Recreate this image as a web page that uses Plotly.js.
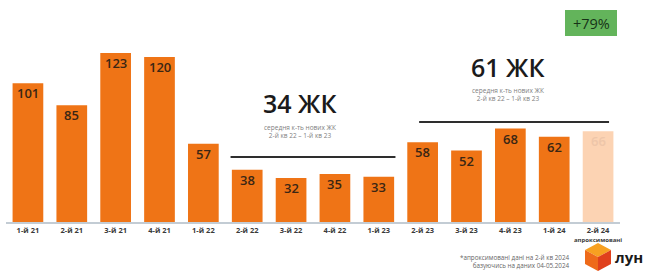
<!DOCTYPE html>
<html><head><meta charset="utf-8">
<script src="https://cdn.plot.ly/plotly-3.0.1.min.js"></script>
<style>html,body{margin:0;padding:0;background:#fff}#c{width:646px;height:271px}</style>
</head><body><div id="c"></div>
<script>
const quarters = ["1-й 21","2-й 21","3-й 21","4-й 21","1-й 22","2-й 22","3-й 22","4-й 22","1-й 23","2-й 23","3-й 23","4-й 23","1-й 24","2-й 24"];
const tickLabels = ["1-й 21","2-й 21","3-й 21","4-й 21","1-й 22","2-й 22","3-й 22","4-й 22","1-й 23","2-й 23","3-й 23","4-й 23","1-й 24","2-й 24<br><span style='font-size:6px'>апроксимовані</span>"];
const newProjects = [101,85,123,120,57,38,32,35,33,58,52,68,62,66];
const approximated = [false,false,false,false,false,false,false,false,false,false,false,false,false,true];
const avgPeriod1 = 34, avgPeriod2 = 61, growth = "+79%";

const ORANGE = "#ef7416", LIGHT = "#fcd3b3";
const xs = quarters.map((_, i) => i);

const trace = {
  type: "bar", x: xs, y: newProjects,
  marker: {color: approximated.map(a => a ? LIGHT : ORANGE), line: {width: 0}},
  width: 0.7,
  hoverinfo: "skip"
};

// paper coordinate helpers (l=6, plot width 614; plot bottom at 222px, height 212)
const px = v => (v - 6) / 614, py = v => (222 - v) / 212;

const valueLabels = newProjects.map((v, i) => ({
  x: i, y: v, xref: "x", yref: "y", yanchor: "top", xanchor: "center", yshift: 1,
  text: String(v), showarrow: false,
  font: {family: "Open Sans", size: 13, weight: 600, color: approximated[i] ? "#eec6a9" : "#3a2614"}
}));

const sub = "середня к-ть нових ЖК<br>2-й кв 22 – 1-й кв 23";
const annotations = valueLabels.concat([
  {x: 6.2, y: 86.5, xref: "x", yref: "y", yanchor: "middle", text: avgPeriod1 + " ЖК", showarrow: false,
   font: {family: "Open Sans", size: 25, weight: 600, color: "#1b1b1b"}},
  {x: 6.2, y: 66, xref: "x", yref: "y", yanchor: "middle", text: sub, showarrow: false,
   font: {family: "Open Sans", size: 6.5, color: "#808080"}},
  {x: 10.95, y: 113, xref: "x", yref: "y", yanchor: "middle", text: avgPeriod2 + " ЖК", showarrow: false,
   font: {family: "Open Sans", size: 25, weight: 600, color: "#1b1b1b"}},
  {x: 10.95, y: 93, xref: "x", yref: "y", yanchor: "middle", text: sub, showarrow: false,
   font: {family: "Open Sans", size: 6.5, color: "#808080"}},
  {x: px(591), y: py(23), xref: "paper", yref: "paper", xanchor: "center", yanchor: "middle", text: growth, showarrow: false,
   font: {family: "Open Sans", size: 14.5, weight: 500, color: "#173317"}},
  {x: px(572), y: py(261.5), xref: "paper", yref: "paper", xanchor: "right", yanchor: "middle", align: "right",
   text: "*апроксимовані дані на 2-й кв 2024<br>базуючись на даних 04-05.2024", showarrow: false,
   font: {family: "Open Sans", size: 6.3, color: "#666666"}},
  {x: px(614), y: py(257), xref: "paper", yref: "paper", xanchor: "left", yanchor: "middle",
   text: "лун", showarrow: false, borderpad: 0,
   font: {family: "Open Sans", size: 15, weight: 700, color: "#1a1a1a"}}
]);

const P = (x, y) => px(x) + "," + py(y);
const shapes = [
  {type: "line", xref: "x", yref: "y", x0: 4.62, x1: 8.38, y0: 47.3, y1: 47.3, line: {color: "#2e2e2e", width: 2}},
  {type: "line", xref: "x", yref: "y", x0: 8.92, x1: 13.25, y0: 72.7, y1: 72.7, line: {color: "#2e2e2e", width: 2}},
  {type: "rect", xref: "paper", yref: "paper", x0: px(565), x1: px(617), y0: py(36), y1: py(10),
   fillcolor: "#63b45b", line: {width: 0}, layer: "below"},
  {type: "path", xref: "paper", yref: "paper", path: "M" + P(598,243) + "L" + P(611,250) + "L" + P(598,257) + "L" + P(585,250) + "Z", fillcolor: "#f7a021", line: {width: 0}},
  {type: "path", xref: "paper", yref: "paper", path: "M" + P(585,250) + "L" + P(598,257) + "L" + P(598,271) + "L" + P(585,264) + "Z", fillcolor: "#ee6a1a", line: {width: 0}},
  {type: "path", xref: "paper", yref: "paper", path: "M" + P(611,250) + "L" + P(598,257) + "L" + P(598,271) + "L" + P(611,264) + "Z", fillcolor: "#e0401c", line: {width: 0}}
];

const layout = {
  width: 646, height: 271,
  margin: {l: 6, r: 26, t: 10, b: 49},
  paper_bgcolor: "#fff", plot_bgcolor: "#fff",
  showlegend: false,
  bargap: 0.3,
  xaxis: {range: [-0.5, 13.5], tickvals: xs, ticktext: tickLabels, showgrid: false, zeroline: false,
          showline: true, linecolor: "#c3ccd4", linewidth: 1.5, ticks: "", fixedrange: true,
          tickfont: {family: "Open Sans", size: 7.5, weight: 700, color: "#3a3a3a"}},
  yaxis: {range: [0, 154.2], visible: false, showgrid: false, zeroline: false, fixedrange: true},
  annotations, shapes
};

Plotly.newPlot("c", [trace], layout, {displayModeBar: false, staticPlot: true});
</script></body></html>
